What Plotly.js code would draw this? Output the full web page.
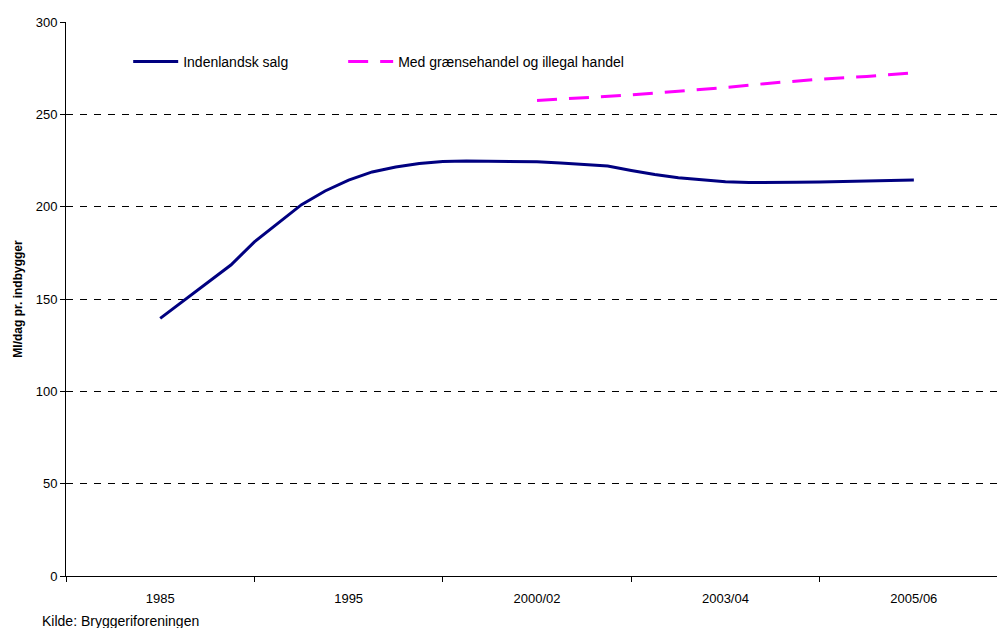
<!DOCTYPE html>
<html>
<head>
<meta charset="utf-8">
<script src="https://cdn.plot.ly/plotly-3.0.1.min.js"></script>
<style>html,body{margin:0;padding:0;background:#fff;}#chart{width:998px;height:628px;}</style>
</head>
<body>
<div id="chart"></div>
<script>
// Category positions (index along the category axis) and values
const salgIndex = [4,5,6,7,8,9,10,11,12,13,14,15,16,17,18,19,20,21,22,23,24,25,26,27,28,29,30,31,32,33,34,35,36];
const salgValues = [139.5,149.1,158.8,168.4,180.9,191.0,201.1,208.5,214.4,218.8,221.5,223.4,224.5,224.7,224.7,224.6,224.3,223.7,222.8,222.0,219.6,217.4,215.7,214.4,213.5,213.1,213.0,213.2,213.4,213.6,213.9,214.1,214.4];
const graenseIndex = [20,22,24,26,28,30,32,34,36];
const graenseValues = [257.5,259.0,260.5,262.5,264.5,267.0,269.0,270.5,272.5];
const tickLabels = ["1985","1995","2000/02","2003/04","2005/06"];
const tickLabelIndex = [4,12,20,28,36];
const tickMarkIndex = [0,8,16,24,32];
const seriesNames = ["Indenlandsk salg","Med grænsehandel og illegal handel"];
const yTitle = "Ml/dag pr. indbygger";
const sourceText = "Kilde: Bryggeriforeningen";

const font = {family: "Liberation Sans, Arial, sans-serif", size: 13, color: "#000"};
const bigFont = {family: font.family, size: 14, color: "#000"};

const traces = [
  {x: salgIndex, y: salgValues, name: seriesNames[0], type: "scatter", mode: "lines",
   line: {color: "#000080", width: 3}, legend: "legend"},
  {x: graenseIndex, y: graenseValues, name: seriesNames[1], type: "scatter", mode: "lines",
   line: {color: "#FF00FF", width: 3, dash: "20px,12px"}, legend: "legend2"}
];

const legendBase = {orientation: "h", y: 0.928, xanchor: "left", yanchor: "middle",
                    bgcolor: "rgba(0,0,0,0)", font: bigFont, itemwidth: 45};

const layout = {
  width: 998, height: 628,
  margin: {l: 66, r: 1, t: 22, b: 52},
  paper_bgcolor: "#fff", plot_bgcolor: "#fff",
  font: font,
  showlegend: true,
  legend: Object.assign({}, legendBase, {x: 0.0668}),
  legend2: Object.assign({}, legendBase, {x: 0.2977}),
  xaxis: {
    range: [0, 39.53], showgrid: false, zeroline: false,
    showline: true, linecolor: "#000", linewidth: 1,
    tickmode: "array", tickvals: tickLabelIndex, ticktext: tickLabels,
    ticks: "", ticklen: 0, tickfont: font, ticklabelstandoff: 10,
    minor: {tickmode: "array", tickvals: tickMarkIndex, ticks: "outside", ticklen: 5, tickcolor: "#000", showgrid: false}
  },
  yaxis: {
    range: [0, 300], dtick: 50, tick0: 0,
    showline: true, linecolor: "#000", linewidth: 1,
    ticks: "outside", ticklen: 5, tickcolor: "#000", tickfont: font,
    showgrid: true, gridcolor: "#000", griddash: "7px,7px", gridwidth: 1,
    zeroline: false,
    title: {text: "<b>" + yTitle + "</b>", font: {family: font.family, size: 12, color: "#000"}, standoff: 10}
  },
  annotations: [
    {text: sourceText, xref: "paper", yref: "paper", x: -0.028, y: -0.081, xanchor: "left", yanchor: "middle",
     showarrow: false, font: bigFont}
  ]
};

Plotly.newPlot("chart", traces, layout, {displayModeBar: false, staticPlot: true});
</script>
</body>
</html>
